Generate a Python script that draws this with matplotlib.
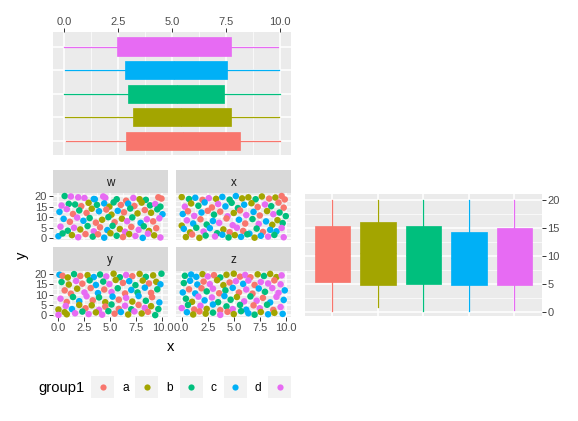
import matplotlib.pyplot as plt
from matplotlib.patches import Rectangle

plt.rcParams['font.family'] = ['Liberation Sans', 'DejaVu Sans']

W, H = 578, 421

groups = ['a', 'b', 'c', 'd', 'e']
colors = ['#F8766D', '#A3A500', '#00BF7D', '#00B0F6', '#E76BF3']
facets = ['w', 'x', 'y', 'z']

# boxplot of x by group1 (top panel, horizontal)
x_lo = [0.08, 0.03, 0.0, 0.03, 0.0]
x_q1 = [2.86, 3.18, 2.95, 2.81, 2.45]
x_med = [5.5, 5.4, 5.2, 5.1, 5.0]
x_q3 = [8.15, 7.71, 7.40, 7.54, 7.71]
x_hi = [10.0, 9.94, 10.0, 9.94, 9.89]

# boxplot of y by group1 (right panel)
y_lo = [0.28, 0.83, 0.28, 0.28, 0.46]
y_q1 = [5.45, 4.92, 5.10, 4.92, 4.92]
y_med = [10.4, 10.6, 10.2, 9.6, 10.0]
y_q3 = [15.37, 16.08, 15.37, 14.30, 15.0]
y_hi = [20.0, 20.0, 20.0, 20.0, 20.0]

# scatter points per facet (estimated)
w_x = [0.6, 1.2, 1.9, 2.5, 3.4, 3.5, 4.3, 4.5, 5.6, 6.5, 7.2, 7.8, 8.4, 9.6, 9.9,
       0.3, 1.0, 1.6, 2.2, 2.9, 3.7, 4.4, 4.9, 5.3, 6.0, 6.7, 7.3, 8.0, 8.8, 9.3, 9.8,
       0.1, 0.8, 1.4, 2.0, 2.7, 3.2, 3.9, 4.6, 5.1, 5.7, 6.3, 6.9, 7.6, 8.3, 8.9, 9.5, 10.0,
       0.5, 1.1, 1.8, 2.4, 3.0, 3.6, 4.2, 4.8, 5.4, 6.1, 6.6, 7.1, 7.9, 8.5, 9.1, 9.7,
       0.2, 0.9, 1.5, 2.1, 2.8, 3.4, 4.0, 4.7, 5.2, 5.9, 6.4, 7.0, 7.7, 8.2, 8.7, 9.4,
       0.0, 0.4, 1.3, 1.9, 2.6, 3.3, 3.8, 4.4, 5.0, 5.6, 6.2, 6.8, 7.4, 8.1, 8.6, 9.2, 9.8]
w_y = [20.0, 19.8, 19.4, 19.1, 18.6, 18.5, 19.8, 19.2, 18.5, 17.8, 19.1, 18.5, 18.2, 19.4, 18.8,
       15.5, 16.3, 16.0, 15.2, 16.8, 15.8, 16.5, 15.0, 17.0, 15.8, 16.4, 15.3, 16.9, 15.6, 16.2, 15.0,
       12.5, 13.8, 11.5, 13.2, 12.0, 14.0, 12.8, 13.6, 11.2, 13.0, 12.3, 14.1, 11.8, 13.4, 12.1, 13.7, 11.4,
       9.2, 7.8, 9.8, 8.3, 9.6, 7.4, 8.8, 10.0, 7.6, 9.3, 8.1, 9.9, 7.3, 9.0, 8.0, 9.5,
       5.5, 3.6, 5.0, 4.2, 5.8, 3.3, 5.2, 3.9, 5.9, 4.4, 3.1, 5.4, 4.0, 5.7, 3.5, 4.8,
       1.0, 2.3, 1.5, 0.5, 2.0, 0.8, 1.9, 0.3, 2.4, 1.2, 0.6, 2.0, 1.1, 0.2, 2.2, 1.4, 0.4]
w_g = ("ceeeddeecaebcaa" "eccabcdbcadabcec" "deacabdabdacbabcd"
       "daedcabcabecdeae" "ecebceadcbeaecba" "dcbeacadbcabedebe")

x_x = [0.0, 0.7, 1.3, 2.0, 2.6, 3.3, 3.9, 4.6, 5.2, 5.8, 6.4, 7.1, 7.7, 8.4, 9.0, 9.6, 9.9,
       0.3, 0.9, 1.6, 2.2, 2.9, 3.5, 4.2, 4.8, 5.4, 6.0, 6.7, 7.3, 8.0, 8.6, 9.3, 9.8,
       0.1, 0.6, 1.2, 1.9, 2.5, 3.1, 3.7, 4.4, 5.0, 5.6, 6.2, 6.9, 7.5, 8.2, 8.8, 9.4, 10.0,
       0.0, 0.5, 1.1, 1.8, 2.4, 3.0, 3.6, 4.3, 4.9, 5.5, 6.1, 6.8, 7.4, 8.1, 8.7, 9.2, 9.7,
       0.2, 0.8, 1.4, 2.1, 2.7, 3.4, 4.0, 4.6, 5.3, 5.9, 6.5, 7.2, 7.8, 8.5, 9.1, 9.6,
       0.4, 1.0, 1.7, 2.3, 3.2, 3.9, 4.5, 5.1, 5.7, 6.3, 7.0, 7.6, 8.3, 8.9, 9.8]
x_y = [19.5, 18.6, 19.2, 18.2, 19.0, 18.7, 19.6, 18.3, 20.0, 18.9, 19.4, 18.5, 19.8, 18.8, 19.3, 20.0, 18.4,
       15.0, 16.5, 15.4, 17.0, 14.6, 16.2, 15.1, 16.8, 14.3, 15.9, 16.6, 14.8, 16.0, 15.2, 16.9, 14.5,
       11.5, 12.8, 10.6, 12.2, 13.0, 11.2, 12.6, 10.4, 12.0, 13.2, 11.0, 12.5, 10.8, 12.9, 11.4, 12.2, 10.5,
       6.0, 8.5, 7.0, 9.0, 6.5, 8.2, 7.3, 9.4, 6.2, 8.8, 7.0, 9.1, 6.8, 8.0, 6.4, 8.6, 7.2,
       4.5, 2.8, 5.0, 3.2, 4.8, 2.4, 4.2, 2.9, 5.0, 3.5, 2.2, 4.6, 3.0, 4.0, 3.3, 4.9,
       0.6, 1.8, 0.2, 1.3, 0.9, 1.7, 0.4, 1.5, 0.7, 1.9, 0.3, 1.2, 0.8, 1.6, 0.5]
x_g = ("bcdaebdcdbbcbabaa" "ebcdaedccdbaecaa" "daedacaebaedabecc"
       "bedacdeaedacedbbc" "dbcedcbaeadcadde" "babcedcbdcbdece")

y_x = [0.1, 0.4, 0.9, 1.5, 2.1, 2.8, 3.4, 4.0, 4.6, 5.3, 5.9, 6.5, 7.1, 7.8, 8.4, 9.1, 9.9,
       0.3, 1.0, 1.7, 2.3, 3.0, 3.6, 4.3, 4.9, 5.5, 6.2, 6.8, 7.4, 8.1, 8.7, 9.4, 9.8,
       0.6, 1.2, 1.8, 2.5, 3.1, 3.8, 4.4, 5.1, 5.7, 6.4, 7.0, 7.6, 8.3, 8.9, 9.5,
       0.2, 0.8, 1.4, 2.0, 2.7, 3.3, 3.9, 4.5, 5.2, 5.8, 6.5, 7.1, 7.7, 8.4, 9.0, 9.7,
       0.0, 0.7, 1.3, 2.0, 2.6, 3.2, 3.9, 4.5, 5.1, 5.8, 6.4, 7.0, 7.7, 8.3, 8.9, 9.6,
       0.0, 0.6, 0.8, 1.6, 2.3, 2.9, 3.6, 4.2, 4.8, 5.4, 6.0, 6.7, 7.3, 8.0, 8.6, 9.3]
y_y = [19.5, 19.0, 18.2, 19.8, 18.9, 19.3, 18.4, 19.6, 18.7, 20.0, 18.3, 19.4, 18.8, 19.9, 18.5, 19.2, 20.0,
       16.0, 14.8, 16.5, 15.2, 16.8, 14.6, 16.2, 15.0, 17.0, 15.6, 16.4, 14.5, 16.7, 15.3, 16.1, 14.9,
       12.0, 10.4, 12.8, 11.0, 13.1, 10.7, 12.4, 11.2, 13.0, 10.5, 12.2, 11.0, 13.3, 10.8, 12.5,
       8.0, 6.4, 8.8, 6.8, 9.2, 7.2, 8.6, 6.3, 9.0, 7.5, 8.4, 6.6, 9.3, 7.0, 8.7, 6.2,
       2.8, 4.5, 3.0, 5.0, 3.4, 4.8, 2.6, 4.2, 5.2, 3.1, 4.6, 2.9, 5.0, 3.6, 4.4, 3.0,
       0.2, 1.5, 0.5, 1.0, 1.8, 0.6, 1.4, 0.3, 2.0, 0.8, 1.6, 0.4, 1.9, 0.9, 1.7, 0.1]
y_g = ("dabcabdcebceabcbc" "cbeacdcebadcbabd" "aabeadaecadcdac"
       "eacdeacbdaebdcad" "bedbabeacaecaebc" "ebbecebecadbebac")

z_x = [0.3, 0.9, 1.4, 2.0, 2.5, 3.1, 3.7, 4.3, 5.0, 5.6, 6.1, 6.6, 7.3, 7.9, 8.5, 9.1, 9.6,
       0.2, 0.8, 1.5, 2.1, 2.7, 3.4, 4.0, 4.6, 5.2, 5.9, 6.4, 7.0, 7.6, 8.3, 8.9, 9.5,
       0.1, 0.7, 1.3, 1.9, 2.4, 3.0, 3.6, 4.2, 4.9, 5.5, 6.2, 6.8, 7.4, 8.0, 8.7, 9.3, 9.9,
       0.4, 1.0, 1.6, 2.2, 2.9, 3.5, 4.1, 4.7, 5.3, 6.0, 6.6, 7.2, 7.8, 8.5, 9.1, 9.8,
       0.0, 0.6, 1.2, 1.8, 2.4, 3.0, 3.7, 4.3, 4.9, 5.6, 6.2, 6.9, 7.5, 8.2, 8.8, 9.5,
       0.5, 1.1, 1.7, 2.3, 3.0, 3.7, 4.4, 5.0, 5.7, 6.4, 7.0, 7.6, 8.3, 8.9, 9.7]
z_y = [19.0, 19.6, 18.5, 19.8, 18.7, 19.3, 18.2, 19.5, 20.0, 18.6, 19.4, 18.3, 19.7, 18.9, 19.9, 18.4, 19.2,
       15.5, 16.6, 14.8, 16.2, 15.0, 16.9, 14.5, 15.8, 16.4, 15.1, 16.7, 14.6, 16.0, 15.3, 16.8, 14.9,
       11.0, 12.5, 10.5, 13.0, 11.5, 12.8, 10.6, 12.0, 13.2, 11.0, 12.4, 10.4, 12.9, 11.3, 13.1, 10.8, 12.0,
       8.0, 6.5, 9.0, 7.2, 8.6, 6.3, 9.3, 7.5, 8.8, 6.7, 9.1, 7.0, 8.4, 6.2, 8.9, 7.4,
       3.5, 5.0, 2.8, 4.6, 3.1, 5.2, 2.5, 4.3, 3.0, 5.0, 2.7, 4.8, 3.4, 5.1, 2.6, 4.0,
       1.5, 0.4, 1.9, 0.8, 1.3, 0.2, 1.7, 0.6, 2.0, 1.0, 0.3, 1.6, 0.5, 1.2, 0.7]
z_g = ("cddbeacbbaeabcbbe" "cddaebbaedeaeeae" "dadaceacdaeadceed"
       "cbedecdcbeceaded" "ecaebdacecdaecae" "dbabceabcdcbdbd")


def px_rect(x0, y0, x1, y1):
    return [x0 / W, 1 - y1 / H, (x1 - x0) / W, (y1 - y0) / H]


def gg_style(ax, xmaj, xmin, ymaj, ymin):
    ax.set_facecolor('#EBEBEB')
    for s in ax.spines.values():
        s.set_visible(False)
    ax.set_xticks(xmaj)
    ax.set_xticks(xmin, minor=True)
    ax.set_yticks(ymaj)
    ax.set_yticks(ymin, minor=True)
    ax.grid(which='major', color='white', lw=1.1)
    ax.grid(which='minor', color='white', lw=0.5)
    ax.set_axisbelow(True)
    ax.tick_params(which='minor', length=0)
    ax.tick_params(which='major', length=2.6, width=0.7, color='#333333',
                   labelcolor='#4D4D4D', labelsize=8, pad=1.5)


def color_boxes(art):
    for i, c in enumerate(colors):
        art['boxes'][i].set_facecolor(c)
        art['boxes'][i].set_edgecolor(c)
        art['medians'][i].set_color(c)
        art['whiskers'][2 * i].set_color(c)
        art['whiskers'][2 * i + 1].set_color(c)


fig = plt.figure(figsize=(W / 100, H / 100), dpi=100)

xt = [0, 2.5, 5, 7.5, 10]
xtm = [1.25, 3.75, 6.25, 8.75]
yt = [0, 5, 10, 15, 20]
ytm = [2.5, 7.5, 12.5, 17.5]
pos = [1, 2, 3, 4, 5]

# top panel
ax1 = fig.add_axes(px_rect(53, 32.5, 291, 155))
gg_style(ax1, xt, xtm, pos, [])
stats1 = [dict(whislo=x_lo[i], q1=x_q1[i], med=x_med[i], q3=x_q3[i], whishi=x_hi[i])
          for i in range(5)]
art1 = ax1.bxp(stats1, positions=pos, widths=0.78, orientation='horizontal',
               patch_artist=True, showfliers=False, showcaps=False,
               whiskerprops=dict(lw=0.9), boxprops=dict(lw=0.5), medianprops=dict(lw=0.5))
color_boxes(art1)
ax1.set_xlim(-0.52, 10.5)
ax1.set_ylim(0.4, 5.6)
ax1.xaxis.tick_top()
ax1.set_xticks(xt, ['0.0', '2.5', '5.0', '7.5', '10.0'])
ax1.set_yticks(pos, [''] * 5)
ax1.tick_params(axis='y', length=0)

# facets
data = [(w_x, w_y, w_g), (x_x, x_y, x_g), (y_x, y_y, y_g), (z_x, z_y, z_g)]
cols = [(52.7, 167.7), (176, 291)]
rows = [(170, 193.3, 240), (247.3, 271, 317)]
for k, name in enumerate(facets):
    r, c = divmod(k, 2)
    x0, x1 = cols[c]
    s0, p0, p1 = rows[r]
    sax = fig.add_axes(px_rect(x0, s0, x1, p0))
    sax.set_facecolor('#D9D9D9')
    sax.set_xticks([])
    sax.set_yticks([])
    for s in sax.spines.values():
        s.set_visible(False)
    sax.text(0.5, 0.45, name, ha='center', va='center', fontsize=8.4,
             color='#1A1A1A', transform=sax.transAxes)
    ax = fig.add_axes(px_rect(x0, p0, x1, p1))
    gg_style(ax, xt, xtm, yt, ytm)
    fx, fy, fg = data[k]
    pc = [colors[groups.index(g)] for g in fg]
    ax.scatter(fx, fy, c=pc, s=22, linewidths=0, zorder=3, clip_on=False)
    ax.set_xlim(-0.55, 10.5)
    ax.set_ylim(-0.8, 21.3)
    ax.set_xticks(xt, ['0.0', '2.5', '5.0', '7.5', '10.0'])
    ax.set_yticks(yt, ['0', '5', '10', '15', '20'])
    if r == 0:
        ax.tick_params(axis='x', length=0, labelbottom=False)
    if c == 1:
        ax.tick_params(axis='y', length=0, labelleft=False)

fig.text(171 / W, 1 - 347 / H, 'x', ha='center', va='center', fontsize=10.6)
fig.text(22 / W, 1 - 255 / H, 'y', ha='center', va='center', fontsize=10.6, rotation=90)

# right panel
ax2 = fig.add_axes(px_rect(305, 194, 541.7, 315.5))
gg_style(ax2, pos, [], yt, ytm)
stats2 = [dict(whislo=y_lo[i], q1=y_q1[i], med=y_med[i], q3=y_q3[i], whishi=y_hi[i])
          for i in range(5)]
art2 = ax2.bxp(stats2, positions=pos, widths=0.78, orientation='vertical',
               patch_artist=True, showfliers=False, showcaps=False,
               whiskerprops=dict(lw=0.9), boxprops=dict(lw=0.5), medianprops=dict(lw=0.5))
color_boxes(art2)
ax2.set_xlim(0.4, 5.6)
ax2.set_ylim(-0.6, 21.1)
ax2.yaxis.tick_right()
ax2.set_xticks(pos, [''] * 5)
ax2.set_yticks(yt, ['0', '5', '10', '15', '20'])
ax2.tick_params(axis='x', length=0)

# legend (clipped at the right like the original)
lax = fig.add_axes(px_rect(0, 368, 291, 408))
lax.set_xlim(0, 291)
lax.set_ylim(408, 368)
lax.axis('off')
lax.text(38, 388, 'group1', ha='left', va='center', fontsize=10.6, clip_on=True)
for i, g in enumerate(groups):
    kx = 91 + i * 44.3
    lax.add_patch(Rectangle((kx, 376), 23, 22, facecolor='#F2F2F2', edgecolor='none'))
    lax.scatter([kx + 11.5], [387], s=20, color=colors[i], linewidths=0)
    lax.text(kx + 31, 388, g, ha='left', va='center', fontsize=8.6, clip_on=True)

fig.savefig('out.png', dpi=100)
